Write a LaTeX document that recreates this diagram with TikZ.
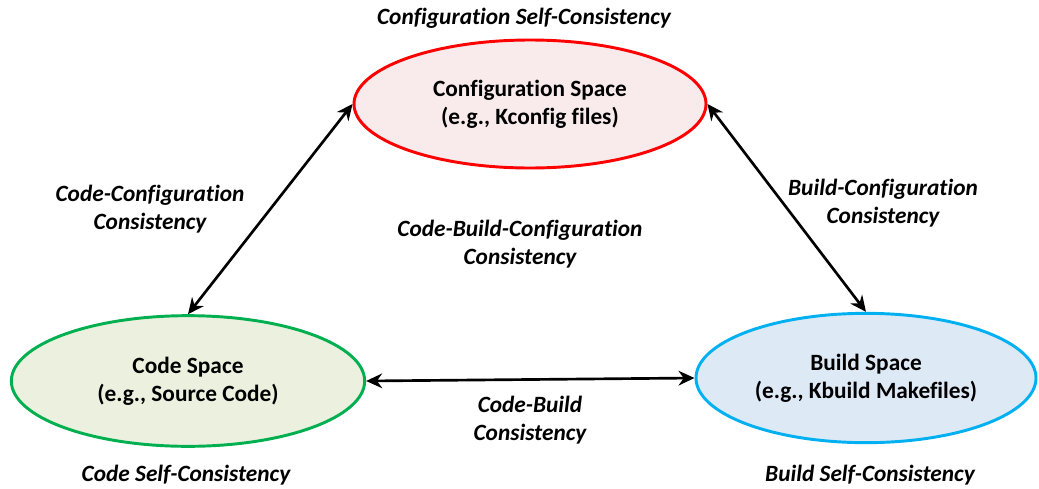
\documentclass[tikz,border=0pt]{standalone}
\usepackage{fontspec}
\setmainfont[Ligatures=NoCommon]{Carlito}
\usetikzlibrary{arrows.meta,positioning,shapes.geometric}
\definecolor{cfgred}{RGB}{255,0,0}
\definecolor{cfgfill}{RGB}{249,235,235}
\definecolor{codegreen}{RGB}{0,176,80}
\definecolor{codefill}{RGB}{235,241,222}
\definecolor{buildblue}{RGB}{0,176,240}
\definecolor{buildfill}{RGB}{222,233,246}

\begin{document}
\begin{tikzpicture}[x=0.75pt,y=-0.75pt,
  space/.style={ellipse,line width=2.2pt,align=center,inner sep=0pt,
    font=\fontsize{17.5}{21}\selectfont\bfseries},
  lbl/.style={align=center,font=\fontsize{17.5}{21}\selectfont\bfseries\itshape},
  con/.style={{Stealth[length=12pt,width=11pt]}-{Stealth[length=12pt,width=11pt]},line width=2pt}]
  \useasboundingbox (0,0) rectangle (1039,489);
  % the three spaces
  \node[space,draw=cfgred,fill=cfgfill,minimum width=264pt,minimum height=96pt] (cfg) at (530,104)
    {Configuration Space\\(e.g., Kconfig files)};
  \node[space,draw=codegreen,fill=codefill,minimum width=265pt,minimum height=98pt] (code) at (188,381)
    {Code Space\\(e.g., Source Code)};
  \node[space,draw=buildblue,fill=buildfill,minimum width=255pt,minimum height=97pt] (build) at (866,378)
    {Build Space\\(e.g., Kbuild Makefiles)};
  % consistency labels
  \node[lbl] (cfgself) at (524,18) {Configuration Self-Consistency};
  \node[lbl] (codeself) at (186,475) {Code Self-Consistency};
  \node[lbl] (buildself) at (870,475) {Build Self-Consistency};
  \node[lbl] (codecfg) at (150,209) {Code-Configuration\\Consistency};
  \node[lbl] (buildcfg) at (883,203) {Build-Configuration\\Consistency};
  \node[lbl] (all) at (520,244) {Code-Build-Configuration\\Consistency};
  \node[lbl] (codebuild) at (530,420) {Code-Build\\Consistency};
  % connectors
  \draw[con] (code.north) -- (cfg.west);
  \draw[con] (build.north) -- (cfg.east);
  \draw[con] (code.east) -- (build.west);
\end{tikzpicture}
\end{document}
